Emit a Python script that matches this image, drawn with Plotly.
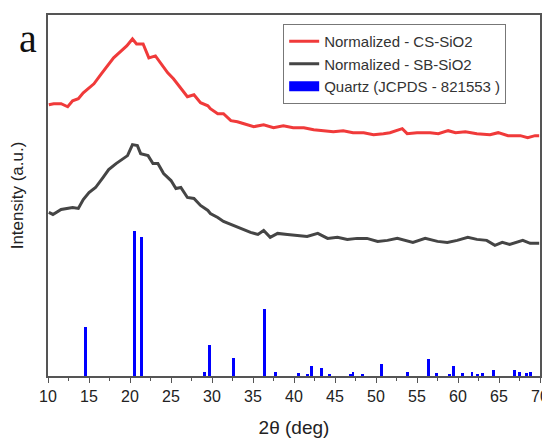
import plotly.graph_objects as go

# Normalized CS-SiO2 (red) : 2theta, intensity (a.u.)
cs_2theta = [10.1, 10.7, 11.6, 12.4, 13.0, 13.7, 14.3, 15.0, 15.6, 16.5, 17.3, 18.0, 18.8, 19.6,
             20.3, 20.8, 21.6, 22.3, 23.1, 23.8, 24.6, 25.3, 26.2, 27.0, 27.8, 28.6, 29.5, 29.8,
             30.7, 31.4, 32.3, 33.1, 33.9, 35.1, 36.3, 37.5, 38.7, 39.9, 41.2, 42.4, 43.6, 44.8,
             46.0, 47.2, 48.5, 49.7, 50.9, 51.7, 53.2, 53.8, 55.0, 56.6, 57.6, 58.8, 59.7, 60.9,
             62.3, 63.9, 64.9, 66.1, 67.6, 68.5, 69.4, 69.9]
cs_int = [272, 273, 273, 270, 276, 278, 284, 289, 293, 303, 311, 319, 325, 331,
          338, 333, 333, 319, 321, 313, 304, 298, 289, 280, 282, 274, 271, 268,
          263, 263, 256, 255, 253, 250, 252, 249, 251, 249, 249, 247, 246, 245,
          246, 244, 244, 242, 243, 244, 248, 243, 244, 244, 243, 246, 244, 245,
          243, 242, 244, 241, 241, 239, 241, 241]

# Normalized SB-SiO2 (dark grey)
sb_2theta = [10.1, 10.6, 11.6, 12.4, 13.0, 13.7, 14.3, 15.0, 15.8, 16.7, 17.4, 18.3, 19.1, 19.7,
             20.3, 20.9, 21.3, 22.2, 22.8, 23.4, 24.1, 25.0, 25.6, 26.2, 27.0, 27.8, 28.6, 29.5,
             29.8, 30.7, 31.4, 32.3, 33.1, 33.9, 34.7, 35.6, 36.3, 37.1, 38.0, 39.2, 40.4, 41.6,
             42.9, 44.1, 45.3, 46.5, 47.7, 48.9, 50.2, 51.4, 52.6, 53.6, 54.5, 56.0, 57.5, 58.7,
             59.9, 61.2, 62.3, 63.5, 64.5, 65.4, 66.3, 67.9, 68.8, 69.9]
sb_int = [164, 162, 167, 168, 169, 168, 177, 184, 189, 199, 207, 213, 218, 221,
          232, 231, 223, 221, 213, 213, 203, 196, 188, 189, 179, 178, 171, 166,
          163, 159, 155, 152, 149, 147, 144, 142, 146, 139, 143, 142, 141, 140,
          143, 138, 139, 137, 138, 138, 135, 136, 138, 136, 134, 138, 135, 134,
          136, 139, 137, 136, 131, 134, 132, 136, 133, 133]

# Quartz reference pattern (JCPDS 821553)
qz_2theta = [14.6, 20.6, 21.4, 29.1, 29.7, 32.6, 36.4, 37.7, 40.5, 41.6, 42.1, 43.3, 44.3,
             46.9, 47.2, 48.3, 50.7, 53.8, 56.4, 57.4, 59.0, 59.4, 60.6, 61.7, 62.4, 63.0,
             64.3, 66.9, 67.5, 68.4, 68.8]
qz_int = [49, 145, 139, 4, 31, 18, 67, 4, 3, 2, 10, 8, 2,
          1.5, 4, 2, 12, 4, 17, 3, 2, 10, 3, 4, 2, 3,
          6, 6, 4, 3, 4]

x_ticks = [10, 15, 20, 25, 30, 35, 40, 45, 50, 55, 60, 65, 70]

fig = go.Figure()
fig.add_trace(go.Scatter(x=cs_2theta, y=cs_int, mode="lines", name="Normalized - CS-SiO2",
                         line=dict(color="#f03a3a", width=3)))
fig.add_trace(go.Scatter(x=sb_2theta, y=sb_int, mode="lines", name="Normalized - SB-SiO2",
                         line=dict(color="#454545", width=3)))
fig.add_trace(go.Bar(x=qz_2theta, y=qz_int, width=0.35, marker=dict(color="#0000ff", line=dict(width=0)),
                     showlegend=False, name="Quartz (JCPDS - 821553 )"))
fig.add_trace(go.Scatter(x=[None], y=[None], mode="lines", name="Quartz (JCPDS - 821553 )",
                         line=dict(color="#0000ff", width=15)))

axis_common = dict(showline=True, linecolor="#555555", linewidth=1.5, mirror=True,
                   showgrid=False, zeroline=False, automargin=False)
fig.update_xaxes(range=[10, 70], tickvals=x_ticks, ticks="outside", ticklen=5, tickcolor="#555555",
                 tickfont=dict(family="Liberation Sans, Arial", size=16, color="#222222"),
                 ticklabeloverflow="allow",
                 minor=dict(ticks="outside", ticklen=3, dtick=2.5, tick0=10, tickcolor="#555555"),
                 title=dict(text="2θ (deg)", font=dict(family="Liberation Sans, Arial", size=19, color="#222222"),
                            standoff=17),
                 **axis_common)
fig.update_yaxes(range=[0, 362], showticklabels=False, ticks="",
                 title=dict(text="Intensity (a.u.)", font=dict(family="Liberation Sans, Arial", size=17, color="#222222"),
                            standoff=19),
                 **axis_common)

fig.add_annotation(text="a", xref="paper", yref="paper", x=-0.018, y=0.935, xanchor="right", yanchor="middle",
                   showarrow=False, font=dict(family="Liberation Serif, Times New Roman", size=40, color="#111111"))

# page body adds an 8px offset; the figure is sized so the plot frame lands where it sits in the reference
fig.update_layout(
    width=542, height=435,
    margin=dict(l=40, r=10, t=7, b=67),
    plot_bgcolor="white", paper_bgcolor="white",
    bargap=0,
    legend=dict(x=0.478, y=0.975, xanchor="left", yanchor="top",
                bordercolor="#777777", borderwidth=1, bgcolor="white",
                font=dict(family="Liberation Sans, Arial", size=15, color="#333333"),
                tracegroupgap=0, itemwidth=30),
)

fig.write_html("out.html")
